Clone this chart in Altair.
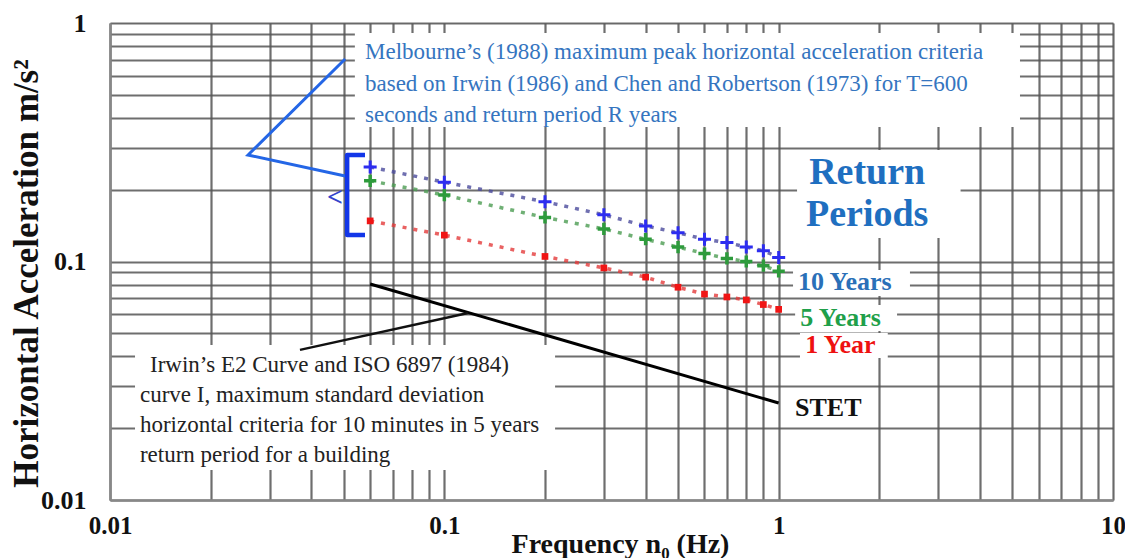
import altair as alt
import pandas as pd

# ---------------- data ----------------
freq = [0.06, 0.1, 0.2, 0.3, 0.4, 0.5, 0.6, 0.7, 0.8, 0.9, 1.0]
acc_10yr = [0.249, 0.215, 0.178, 0.157, 0.141, 0.132, 0.124, 0.120, 0.115, 0.111, 0.104]
acc_5yr = [0.218, 0.190, 0.153, 0.137, 0.124, 0.115, 0.108, 0.103, 0.100, 0.096, 0.091]
acc_1yr = [0.148, 0.129, 0.105, 0.094, 0.086, 0.078, 0.073, 0.071, 0.069, 0.066, 0.063]
series_names = ["10 Years", "5 Years", "1 Year"]

stet_freq = [0.06, 1.0]
stet_acc = [0.0805, 0.0255]

x_grid_values = [0.01, 0.02, 0.03, 0.04, 0.05, 0.06, 0.07, 0.08, 0.09,
                 0.1, 0.2, 0.3, 0.4, 0.5, 0.6, 0.7, 0.8, 0.9,
                 1, 2, 3, 4, 5, 6, 7, 8, 9, 10]
y_grid_values = [0.01, 0.02, 0.03, 0.04, 0.05, 0.06, 0.07, 0.08, 0.09,
                 0.1, 0.2, 0.3, 0.4, 0.5, 0.6, 0.7, 0.8, 0.9, 1]
x_label_values = [0.01, 0.1, 1, 10]
y_label_values = [0.01, 0.1, 1]

# annotation text
blue_note = ["Melbourne\u2019s (1988) maximum  peak horizontal acceleration  criteria",
             "based on Irwin (1986) and Chen and Robertson (1973) for T=600",
             "seconds and return period R years"]
blue_note_x = [0.0579, 0.0579, 0.0579]
blue_note_y = [0.756, 0.555, 0.4114]

black_note = ["Irwin\u2019s E2 Curve and ISO 6897 (1984)",
              "curve I, maximum  standard  deviation",
              "horizontal criteria  for 10 minutes in 5 years",
              "return period for a  building"]
black_note_x = [0.01317, 0.01229, 0.01229, 0.01229]
black_note_y = [0.0368, 0.02756, 0.02063, 0.01544]

rp_text = ["Return", "Periods"]
rp_x = [1.84, 1.84]
rp_y = [0.235, 0.1567]

year_text = ["10 Years", "5 Years", "1 Year"]
year_x = [1.143, 1.16, 1.2]
year_y = [0.082, 0.058, 0.0447]

stet_text = ["STET"]
stet_x = [1.119]
stet_y = [0.0243]

# white background boxes behind the annotations
box_x1 = [0.054, 1.135, 1.104, 1.12, 1.158, 0.01188]
box_x2 = [5.27, 3.5, 2.47, 2.26, 2.12, 0.2144]
box_y1 = [0.3664, 0.1255, 0.0717, 0.0511, 0.0394, 0.01335]
box_y2 = [0.908, 0.2934, 0.0921, 0.0657, 0.0501, 0.0447]

# callout lines (blue pointer, bracket, black pointer)
callout_id = ["blue", "blue", "blue", "bracket", "bracket", "bracket", "bracket", "black", "black"]
callout_ord = [0, 1, 2, 0, 1, 2, 3, 0, 1]
callout_x = [0.0505, 0.02587, 0.0505, 0.0579, 0.0512, 0.0512, 0.0579, 0.037, 0.1178]
callout_y = [0.7065, 0.2796, 0.2283, 0.2796, 0.2796, 0.1292, 0.1292, 0.0426, 0.0608]

# ---------------- tables ----------------
series_df = pd.DataFrame({
    "x": freq * 3,
    "y": acc_10yr + acc_5yr + acc_1yr,
    "series": [series_names[0]] * len(freq) + [series_names[1]] * len(freq) + [series_names[2]] * len(freq),
})
stet_df = pd.DataFrame({"x": stet_freq, "y": stet_acc})
box_df = pd.DataFrame({"x": box_x1, "x2": box_x2, "y": box_y1, "y2": box_y2})
callout_df = pd.DataFrame({"x": callout_x, "y": callout_y, "id": callout_id, "ord": callout_ord})

SERIF = "Liberation Serif"

xs = alt.Scale(type="log", domain=[0.01, 10], nice=False)
ys = alt.Scale(type="log", domain=[0.01, 1], nice=False)

x_axis = alt.Axis(
    values=x_grid_values, format="~g",
    labelExpr="indexof([0.01, 0.1, 1, 10], datum.value) >= 0 ? datum.label : ''",
    title="Frequency n\u2080 (Hz)", titleX=510, titleY=44, titleBaseline="middle", titleAlign="center",
    titleFont=SERIF, titleFontSize=28, titleFontWeight="bold", titleColor="#111",
    labelFont=SERIF, labelFontSize=25, labelFontWeight="bold", labelColor="#111",
    labelPadding=13, labelFlush=False, labelOverlap=False, labelBaseline="top",
    ticks=False, grid=True, gridColor="#555", gridWidth=2.2, gridOpacity=0.85,
    domainColor="#888", domainWidth=2.5,
)
y_axis = alt.Axis(
    values=y_grid_values, format="~g",
    labelExpr="indexof([0.01, 0.1, 1], datum.value) >= 0 ? datum.label : ''",
    title="Horizontal Acceleration m/s\u00b2", titleX=-84, titleY=250, titleAngle=-90,
    titleBaseline="middle", titleAlign="center",
    titleFont=SERIF, titleFontSize=35, titleFontWeight="bold", titleColor="#111",
    labelFont=SERIF, labelFontSize=26, labelFontWeight="bold", labelColor="#111",
    labelPadding=24, labelFlush=False, labelOverlap=False, labelBaseline="middle",
    ticks=False, grid=True, gridColor="#555", gridWidth=2.2, gridOpacity=0.85,
    domainColor="#888", domainWidth=2.5,
)


def X(field="x"):
    return alt.X(f"{field}:Q", scale=xs, axis=x_axis)


def Y(field="y"):
    return alt.Y(f"{field}:Q", scale=ys, axis=y_axis)


boxes = alt.Chart(box_df).mark_rect(fill="white", stroke=None, opacity=1).encode(
    x=X(), x2="x2:Q", y=Y(), y2="y2:Q"
)

line_colors = alt.Scale(domain=series_names, range=["#4b4b9c", "#4c9c52", "#e33b3b"])
series_lines = alt.Chart(series_df).mark_line(
    strokeDash=[4, 7], strokeWidth=3.5, opacity=0.8
).encode(
    x=X(), y=Y(), color=alt.Color("series:N", scale=line_colors, legend=None), detail="series:N"
)

stet_line = alt.Chart(stet_df).mark_line(color="#000", strokeWidth=3).encode(x=X(), y=Y())

blue_call = alt.Chart(callout_df).transform_filter(alt.datum.id == "blue").mark_line(
    color="#2466e6", strokeWidth=3
).encode(x=X(), y=Y(), order="ord:Q")
bracket = alt.Chart(callout_df).transform_filter(alt.datum.id == "bracket").mark_line(
    color="#1236e8", strokeWidth=4.5, strokeJoin="round"
).encode(x=X(), y=Y(), order="ord:Q")
black_call = alt.Chart(callout_df).transform_filter(alt.datum.id == "black").mark_line(
    color="#111", strokeWidth=2.5
).encode(x=X(), y=Y(), order="ord:Q")

cross_path = "M-1,0L1,0M0,-1L0,1"
m10 = alt.Chart(series_df).transform_filter(alt.datum.series == "10 Years").mark_point(
    shape=cross_path, size=170, strokeWidth=3, color="#2d2df0", filled=False, opacity=1
).encode(x=X(), y=Y())
m5 = alt.Chart(series_df).transform_filter(alt.datum.series == "5 Years").mark_point(
    shape=cross_path, size=150, strokeWidth=3.5, color="#2e9b3c", filled=False, opacity=1
).encode(x=X(), y=Y())
m1 = alt.Chart(series_df).transform_filter(alt.datum.series == "1 Year").mark_point(
    shape="square", size=45, color="#f01515", filled=True, opacity=1
).encode(x=X(), y=Y())

blue_note_df = pd.DataFrame({"x": blue_note_x, "y": blue_note_y, "t": blue_note})
black_note_df = pd.DataFrame({"x": black_note_x, "y": black_note_y, "t": black_note})
rp_df = pd.DataFrame({"x": rp_x, "y": rp_y, "t": rp_text})
year_df = pd.DataFrame({"x": year_x, "y": year_y, "t": year_text})
stet_lbl_df = pd.DataFrame({"x": stet_x, "y": stet_y, "t": stet_text})
lt_df = pd.DataFrame({"x": [0.0471], "y": [0.1845], "t": ["<"]})

t_blue = alt.Chart(blue_note_df).mark_text(
    align="left", baseline="middle", font=SERIF, fontSize=23, color="#3575c0"
).encode(x=X(), y=Y(), text="t:N")
t_black = alt.Chart(black_note_df).mark_text(
    align="left", baseline="middle", font=SERIF, fontSize=23, color="#222"
).encode(x=X(), y=Y(), text="t:N")
t_rp = alt.Chart(rp_df).mark_text(
    align="center", baseline="middle", font=SERIF, fontSize=38, fontWeight="bold", color="#1f6fc0"
).encode(x=X(), y=Y(), text="t:N")
year_colors = alt.Scale(domain=year_text, range=["#2a70b8", "#1fa04a", "#ee1111"])
t_year = alt.Chart(year_df).mark_text(
    align="left", baseline="middle", font=SERIF, fontSize=26, fontWeight="bold"
).encode(x=X(), y=Y(), text="t:N", color=alt.Color("t:N", scale=year_colors, legend=None))
t_stet = alt.Chart(stet_lbl_df).mark_text(
    align="left", baseline="middle", font=SERIF, fontSize=26, fontWeight="bold", color="#111"
).encode(x=X(), y=Y(), text="t:N")
t_lt = alt.Chart(lt_df).mark_text(
    align="center", baseline="middle", font=SERIF, fontSize=28, fontWeight="bold", color="#3344cc"
).encode(x=X(), y=Y(), text="t:N")

chart = alt.layer(
    boxes, series_lines, stet_line, blue_call, bracket, black_call,
    m10, m5, m1, t_blue, t_black, t_rp, t_year, t_stet, t_lt
).resolve_scale(color="independent").properties(
    width=1003, height=477,
    autosize=alt.AutoSizeParams(type="none"),
    padding={"left": 102, "top": 15, "right": 12, "bottom": 58},
).configure_view(stroke="#777", strokeWidth=2).configure(background="white")

chart.save("out.html", embed_options={"renderer": "svg", "actions": False})
